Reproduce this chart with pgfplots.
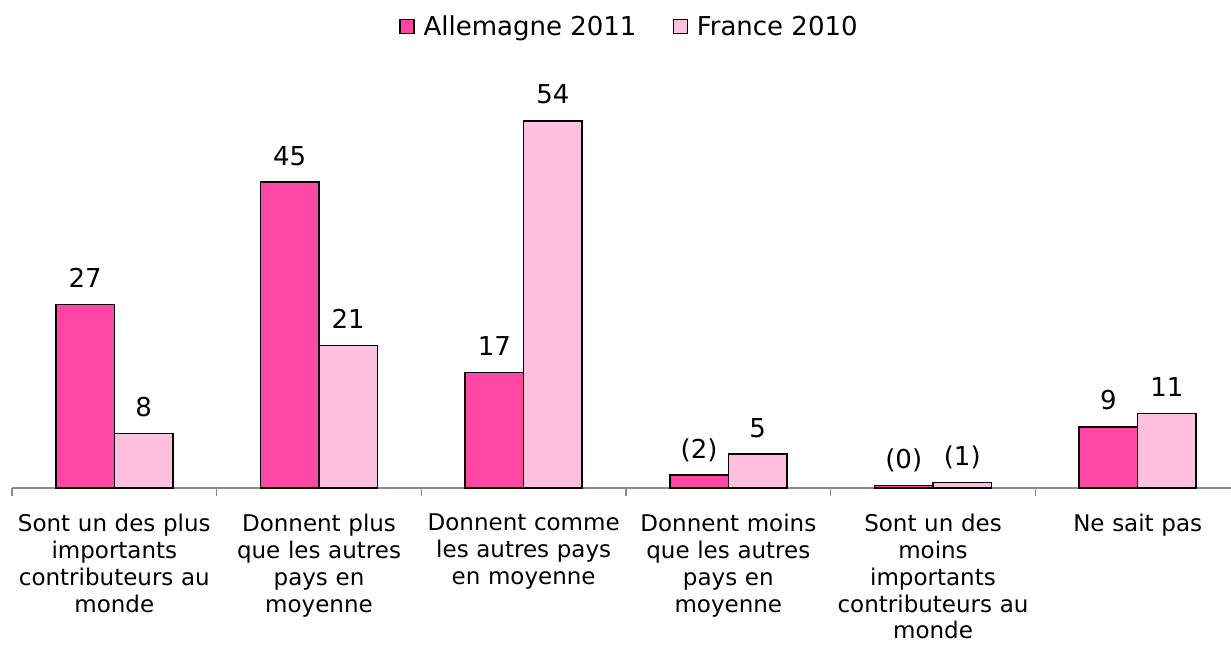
\documentclass[border=0pt]{standalone}
\usepackage{pgfplots}
\pgfplotsset{compat=1.18}
\usepackage{pgfplotstable}
\usepackage{fontspec}
\setmainfont{DejaVu Sans}
\definecolor{deucol}{HTML}{FF47A3}
\definecolor{fracol}{HTML}{FFC0E0}
\definecolor{axgray}{HTML}{8C8C8C}

\pgfplotstableread{
x y lab
0 27 27
1 45 45
2 17 17
3 1.9 (2)
4 0.35 (0)
5 9 9
}\tabdeu
\pgfplotstableread{
x y lab
0 8 8
1 21 21
2 54 54
3 5 5
4 0.85 (1)
5 11 11
}\tabfra

\begin{document}
\begin{tikzpicture}
\path[use as bounding box] (-12pt,-157pt) rectangle (1219pt,488pt);
\begin{axis}[
  at={(0pt,0pt)}, anchor=south west, scale only axis,
  width=1219pt, height=408pt,
  xmin=-0.5, xmax=5.456, ymin=0, ymax=60,
  axis x line*=bottom, axis y line=none,
  x axis line style={draw=axgray, line width=1.8pt, -},
  ybar=0pt, bar width=58.5pt,
  xtick={0,...,5},
  xticklabels={
    {Sont un des plus\\importants\\contributeurs au\\monde},
    {Donnent plus\\que les autres\\pays en\\moyenne},
    {Donnent comme\\les autres pays\\en moyenne},
    {Donnent moins\\que les autres\\pays en\\moyenne},
    {Sont un des\\moins\\importants\\contributeurs au\\monde},
    {Ne sait pas}},
  minor xtick={-0.5,0.5,...,4.5},
  major tick length=0pt, minor tick length=8pt,
  tick align=outside,
  minor tick style={draw=axgray, line width=1.5pt},
  xticklabel style={font=\fontsize{23}{26.8}\selectfont, text width=215pt, align=center, anchor=north, inner sep=0pt, yshift=-26pt},
  nodes near coords, point meta=explicit symbolic,
  every node near coord/.append style={font=\fontsize{26}{30}\selectfont, text=black, anchor=base, inner sep=0pt, yshift=17pt},
  legend columns=2,
  legend image code/.code={\draw[#1, draw=black, line width=1.2pt] (0pt,-7pt) rectangle (14pt,7pt);},
  legend style={at={(0.5066,1.132)}, anchor=center, draw=none, fill=none,
    font=\fontsize{26}{30}\selectfont,
    /tikz/every odd column/.append style={column sep=7pt},
    /tikz/every even column/.append style={column sep=34pt}},
]
\addplot[fill=deucol, draw=black, line width=1.4pt] table[x=x, y=y, meta=lab] {\tabdeu};
\addlegendentry{Allemagne 2011}
\addplot[fill=fracol, draw=black, line width=1.4pt] table[x=x, y=y, meta=lab] {\tabfra};
\addlegendentry{France 2010}
\end{axis}
\end{tikzpicture}
\end{document}
